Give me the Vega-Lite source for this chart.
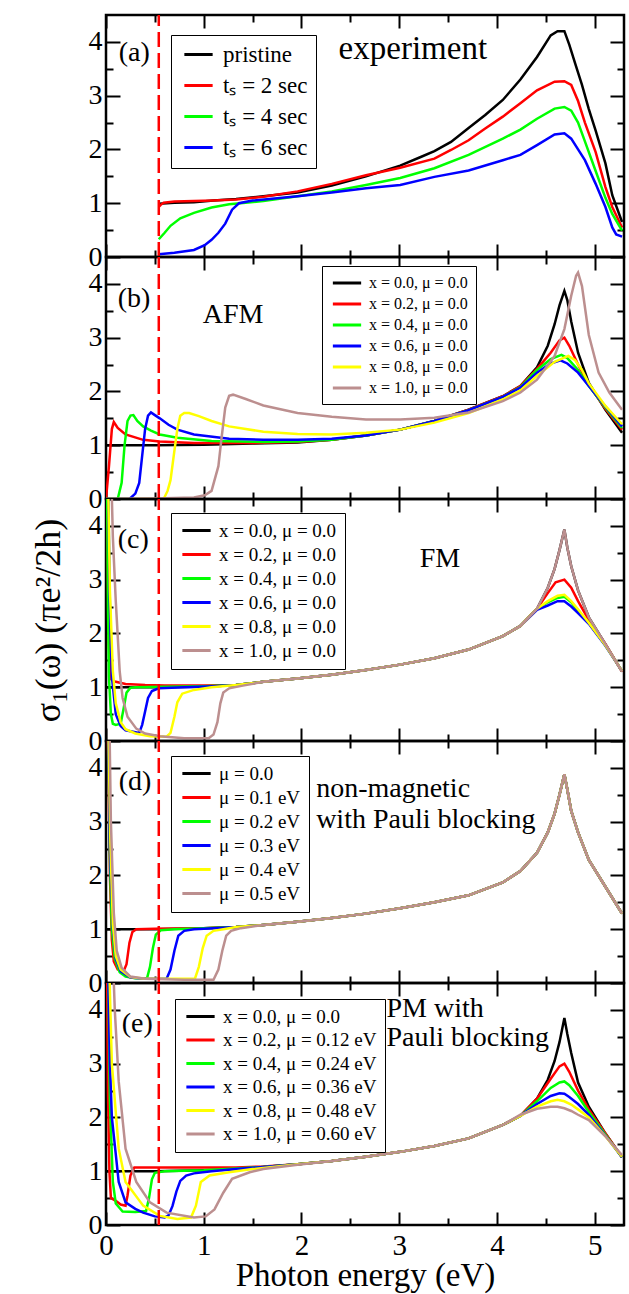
{
"$schema":"https://vega.github.io/schema/vega-lite/v6.json",
"padding":{"top":12,"left":28,"right":5,"bottom":0},
"config":{"font":"Liberation Serif","view":{"stroke":"black","strokeWidth":2.5},
"axis":{"domain":false,"grid":false,"tickColor":"black","tickWidth":2,"labelColor":"black","labelFontSize":28,"labelFont":"Liberation Serif","labelPadding":18,"labelFlush":false,"labelOverlap":false,"titleColor":"black","titleFont":"Liberation Serif","titleFontWeight":"normal","titleFontSize":34},
"legend":{"labelFont":"Liberation Serif","labelColor":"black","strokeColor":"black","fillColor":"white","symbolType":"M-2,0L2,0","symbolSize":200,"symbolStrokeWidth":3,"padding":8,"symbolOffset":8,"labelOffset":13,"orient":"none","direction":"vertical"},
"text":{"font":"Liberation Serif","color":"black"}},
"datasets":{
"a":[
{"k":0,"x":0.54,"y":0.99},{"k":0,"x":0.7,"y":1.01},{"k":0,"x":0.9,"y":1.02},{"k":0,"x":1.1,"y":1.05},{"k":0,"x":1.33,"y":1.08},{"k":0,"x":1.61,"y":1.13},{"k":0,"x":1.96,"y":1.2},{"k":0,"x":2.31,"y":1.33},{"k":0,"x":2.66,"y":1.5},{"k":0,"x":3.01,"y":1.7},{"k":0,"x":3.22,"y":1.86},{"k":0,"x":3.36,"y":1.97},{"k":0,"x":3.53,"y":2.14},{"k":0,"x":3.71,"y":2.4},{"k":0,"x":3.88,"y":2.64},{"k":0,"x":4.06,"y":2.92},{"k":0,"x":4.24,"y":3.3},{"k":0,"x":4.41,"y":3.72},{"k":0,"x":4.55,"y":4.12},{"k":0,"x":4.62,"y":4.2},{"k":0,"x":4.69,"y":4.2},{"k":0,"x":4.74,"y":3.95},{"k":0,"x":4.8,"y":3.6},{"k":0,"x":4.87,"y":3.2},{"k":0,"x":4.94,"y":2.75},{"k":0,"x":5.01,"y":2.35},{"k":0,"x":5.11,"y":1.74},{"k":0,"x":5.18,"y":1.15},{"k":0,"x":5.28,"y":0.65},
{"k":1,"x":0.54,"y":0.93},{"k":1,"x":0.56,"y":0.97},{"k":1,"x":0.59,"y":1.01},{"k":1,"x":0.7,"y":1.03},{"k":1,"x":0.9,"y":1.04},{"k":1,"x":1.1,"y":1.05},{"k":1,"x":1.33,"y":1.07},{"k":1,"x":1.61,"y":1.12},{"k":1,"x":1.96,"y":1.22},{"k":1,"x":2.31,"y":1.36},{"k":1,"x":2.66,"y":1.52},{"k":1,"x":3.01,"y":1.66},{"k":1,"x":3.36,"y":1.83},{"k":1,"x":3.53,"y":1.99},{"k":1,"x":3.71,"y":2.17},{"k":1,"x":3.88,"y":2.39},{"k":1,"x":4.06,"y":2.61},{"k":1,"x":4.24,"y":2.86},{"k":1,"x":4.41,"y":3.1},{"k":1,"x":4.59,"y":3.26},{"k":1,"x":4.69,"y":3.27},{"k":1,"x":4.76,"y":3.2},{"k":1,"x":4.83,"y":2.9},{"k":1,"x":4.9,"y":2.5},{"k":1,"x":5.01,"y":1.95},{"k":1,"x":5.11,"y":1.3},{"k":1,"x":5.18,"y":0.93},{"k":1,"x":5.28,"y":0.55},
{"k":2,"x":0.54,"y":0.33},{"k":2,"x":0.6,"y":0.45},{"k":2,"x":0.66,"y":0.58},{"k":2,"x":0.76,"y":0.72},{"k":2,"x":0.9,"y":0.82},{"k":2,"x":1.08,"y":0.92},{"k":2,"x":1.26,"y":0.98},{"k":2,"x":1.43,"y":1.01},{"k":2,"x":1.61,"y":1.04},{"k":2,"x":1.96,"y":1.13},{"k":2,"x":2.31,"y":1.22},{"k":2,"x":2.66,"y":1.34},{"k":2,"x":3.01,"y":1.47},{"k":2,"x":3.36,"y":1.65},{"k":2,"x":3.71,"y":1.9},{"k":2,"x":4.06,"y":2.2},{"k":2,"x":4.24,"y":2.37},{"k":2,"x":4.41,"y":2.57},{"k":2,"x":4.59,"y":2.76},{"k":2,"x":4.69,"y":2.79},{"k":2,"x":4.76,"y":2.72},{"k":2,"x":4.83,"y":2.5},{"k":2,"x":4.9,"y":2.15},{"k":2,"x":5.01,"y":1.6},{"k":2,"x":5.11,"y":1.1},{"k":2,"x":5.18,"y":0.8},{"k":2,"x":5.28,"y":0.49},
{"k":3,"x":0.54,"y":0.05},{"k":3,"x":0.7,"y":0.08},{"k":3,"x":0.9,"y":0.13},{"k":3,"x":1.01,"y":0.22},{"k":3,"x":1.08,"y":0.32},{"k":3,"x":1.15,"y":0.45},{"k":3,"x":1.22,"y":0.62},{"k":3,"x":1.29,"y":0.88},{"k":3,"x":1.36,"y":1.0},{"k":3,"x":1.5,"y":1.05},{"k":3,"x":1.96,"y":1.13},{"k":3,"x":2.31,"y":1.2},{"k":3,"x":2.66,"y":1.28},{"k":3,"x":3.01,"y":1.34},{"k":3,"x":3.36,"y":1.49},{"k":3,"x":3.71,"y":1.61},{"k":3,"x":4.06,"y":1.8},{"k":3,"x":4.24,"y":1.9},{"k":3,"x":4.41,"y":2.08},{"k":3,"x":4.59,"y":2.28},{"k":3,"x":4.69,"y":2.3},{"k":3,"x":4.76,"y":2.2},{"k":3,"x":4.83,"y":2.0},{"k":3,"x":4.9,"y":1.8},{"k":3,"x":5.01,"y":1.36},{"k":3,"x":5.11,"y":0.93},{"k":3,"x":5.18,"y":0.55},{"k":3,"x":5.22,"y":0.42},{"k":3,"x":5.28,"y":0.38}
],
"b":[
{"k":0,"x":0,"y":1.0},{"k":0,"x":0.5,"y":1.0},{"k":0,"x":1.0,"y":1.01},{"k":0,"x":1.5,"y":1.03},{"k":0,"x":1.96,"y":1.05},{"k":0,"x":2.31,"y":1.1},{"k":0,"x":2.66,"y":1.18},{"k":0,"x":3.01,"y":1.29},{"k":0,"x":3.36,"y":1.45},{"k":0,"x":3.71,"y":1.66},{"k":0,"x":4.06,"y":1.91},{"k":0,"x":4.24,"y":2.1},{"k":0,"x":4.41,"y":2.45},{"k":0,"x":4.52,"y":2.85},{"k":0,"x":4.59,"y":3.25},{"k":0,"x":4.64,"y":3.6},{"k":0,"x":4.69,"y":3.87},{"k":0,"x":4.72,"y":3.7},{"k":0,"x":4.76,"y":3.3},{"k":0,"x":4.83,"y":2.72},{"k":0,"x":4.94,"y":2.16},{"k":0,"x":5.11,"y":1.66},{"k":0,"x":5.28,"y":1.23},
{"k":1,"x":0,"y":0},{"k":1,"x":0.03,"y":0.6},{"k":1,"x":0.06,"y":1.3},{"k":1,"x":0.08,"y":1.43},{"k":1,"x":0.12,"y":1.32},{"k":1,"x":0.2,"y":1.2},{"k":1,"x":0.38,"y":1.1},{"k":1,"x":0.55,"y":1.07},{"k":1,"x":0.9,"y":1.04},{"k":1,"x":1.5,"y":1.04},{"k":1,"x":1.96,"y":1.06},{"k":1,"x":2.31,"y":1.1},{"k":1,"x":2.66,"y":1.18},{"k":1,"x":3.01,"y":1.29},{"k":1,"x":3.36,"y":1.45},{"k":1,"x":3.71,"y":1.66},{"k":1,"x":4.06,"y":1.91},{"k":1,"x":4.24,"y":2.1},{"k":1,"x":4.41,"y":2.42},{"k":1,"x":4.55,"y":2.72},{"k":1,"x":4.64,"y":2.95},{"k":1,"x":4.69,"y":3.0},{"k":1,"x":4.74,"y":2.85},{"k":1,"x":4.83,"y":2.5},{"k":1,"x":4.94,"y":2.12},{"k":1,"x":5.11,"y":1.68},{"k":1,"x":5.28,"y":1.29},
{"k":2,"x":0,"y":0},{"k":2,"x":0.12,"y":0},{"k":2,"x":0.16,"y":0.3},{"k":2,"x":0.19,"y":1.0},{"k":2,"x":0.22,"y":1.45},{"k":2,"x":0.25,"y":1.55},{"k":2,"x":0.28,"y":1.56},{"k":2,"x":0.32,"y":1.45},{"k":2,"x":0.38,"y":1.35},{"k":2,"x":0.46,"y":1.27},{"k":2,"x":0.55,"y":1.2},{"k":2,"x":0.73,"y":1.14},{"k":2,"x":1.08,"y":1.08},{"k":2,"x":1.61,"y":1.06},{"k":2,"x":1.96,"y":1.07},{"k":2,"x":2.31,"y":1.1},{"k":2,"x":2.66,"y":1.18},{"k":2,"x":3.01,"y":1.29},{"k":2,"x":3.36,"y":1.45},{"k":2,"x":3.71,"y":1.65},{"k":2,"x":4.06,"y":1.9},{"k":2,"x":4.24,"y":2.08},{"k":2,"x":4.41,"y":2.4},{"k":2,"x":4.55,"y":2.6},{"k":2,"x":4.66,"y":2.68},{"k":2,"x":4.72,"y":2.62},{"k":2,"x":4.83,"y":2.4},{"k":2,"x":4.94,"y":2.1},{"k":2,"x":5.11,"y":1.7},{"k":2,"x":5.28,"y":1.32},
{"k":3,"x":0,"y":0},{"k":3,"x":0.24,"y":0},{"k":3,"x":0.3,"y":0.1},{"k":3,"x":0.34,"y":0.3},{"k":3,"x":0.37,"y":0.8},{"k":3,"x":0.4,"y":1.3},{"k":3,"x":0.43,"y":1.55},{"k":3,"x":0.46,"y":1.61},{"k":3,"x":0.5,"y":1.56},{"k":3,"x":0.55,"y":1.5},{"k":3,"x":0.64,"y":1.38},{"k":3,"x":0.73,"y":1.29},{"k":3,"x":0.9,"y":1.2},{"k":3,"x":1.26,"y":1.12},{"k":3,"x":1.61,"y":1.1},{"k":3,"x":1.96,"y":1.1},{"k":3,"x":2.31,"y":1.12},{"k":3,"x":2.66,"y":1.18},{"k":3,"x":3.01,"y":1.29},{"k":3,"x":3.36,"y":1.45},{"k":3,"x":3.71,"y":1.65},{"k":3,"x":4.06,"y":1.9},{"k":3,"x":4.24,"y":2.07},{"k":3,"x":4.41,"y":2.35},{"k":3,"x":4.55,"y":2.52},{"k":3,"x":4.65,"y":2.58},{"k":3,"x":4.72,"y":2.52},{"k":3,"x":4.83,"y":2.35},{"k":3,"x":4.94,"y":2.1},{"k":3,"x":5.11,"y":1.72},{"k":3,"x":5.28,"y":1.35},
{"k":4,"x":0,"y":0},{"k":4,"x":0.59,"y":0},{"k":4,"x":0.63,"y":0.15},{"k":4,"x":0.66,"y":0.35},{"k":4,"x":0.7,"y":0.9},{"k":4,"x":0.73,"y":1.3},{"k":4,"x":0.76,"y":1.55},{"k":4,"x":0.8,"y":1.6},{"k":4,"x":0.85,"y":1.6},{"k":4,"x":0.95,"y":1.54},{"k":4,"x":1.08,"y":1.45},{"k":4,"x":1.26,"y":1.35},{"k":4,"x":1.61,"y":1.25},{"k":4,"x":1.96,"y":1.21},{"k":4,"x":2.31,"y":1.2},{"k":4,"x":2.66,"y":1.23},{"k":4,"x":3.01,"y":1.29},{"k":4,"x":3.36,"y":1.42},{"k":4,"x":3.71,"y":1.6},{"k":4,"x":4.06,"y":1.85},{"k":4,"x":4.24,"y":2.02},{"k":4,"x":4.41,"y":2.29},{"k":4,"x":4.59,"y":2.55},{"k":4,"x":4.73,"y":2.66},{"k":4,"x":4.8,"y":2.58},{"k":4,"x":4.87,"y":2.4},{"k":4,"x":4.94,"y":2.15},{"k":4,"x":5.11,"y":1.73},{"k":4,"x":5.28,"y":1.39},
{"k":5,"x":0,"y":0},{"k":5,"x":0.5,"y":0.01},{"k":5,"x":0.9,"y":0.03},{"k":5,"x":1.01,"y":0.07},{"k":5,"x":1.08,"y":0.15},{"k":5,"x":1.15,"y":0.61},{"k":5,"x":1.18,"y":1.1},{"k":5,"x":1.22,"y":1.7},{"k":5,"x":1.26,"y":1.92},{"k":5,"x":1.3,"y":1.94},{"k":5,"x":1.43,"y":1.86},{"k":5,"x":1.61,"y":1.74},{"k":5,"x":1.96,"y":1.6},{"k":5,"x":2.31,"y":1.53},{"k":5,"x":2.66,"y":1.48},{"k":5,"x":3.01,"y":1.48},{"k":5,"x":3.36,"y":1.51},{"k":5,"x":3.71,"y":1.61},{"k":5,"x":4.06,"y":1.82},{"k":5,"x":4.24,"y":1.98},{"k":5,"x":4.41,"y":2.22},{"k":5,"x":4.59,"y":2.66},{"k":5,"x":4.69,"y":3.16},{"k":5,"x":4.76,"y":3.78},{"k":5,"x":4.81,"y":4.15},{"k":5,"x":4.83,"y":4.21},{"k":5,"x":4.87,"y":3.96},{"k":5,"x":4.94,"y":3.05},{"k":5,"x":5.04,"y":2.35},{"k":5,"x":5.15,"y":1.98},{"k":5,"x":5.28,"y":1.66}
],
"c":[
{"k":0,"x":0,"y":1.0},{"k":0,"x":0.5,"y":1.0},{"k":0,"x":1.0,"y":1.01},{"k":0,"x":1.33,"y":1.04},{"k":0,"x":1.61,"y":1.1},{"k":0,"x":1.96,"y":1.16},{"k":0,"x":2.31,"y":1.23},{"k":0,"x":2.66,"y":1.32},{"k":0,"x":3.01,"y":1.42},{"k":0,"x":3.36,"y":1.54},{"k":0,"x":3.71,"y":1.7},{"k":0,"x":4.06,"y":1.95},{"k":0,"x":4.24,"y":2.14},{"k":0,"x":4.41,"y":2.46},{"k":0,"x":4.52,"y":2.85},{"k":0,"x":4.59,"y":3.2},{"k":0,"x":4.64,"y":3.55},{"k":0,"x":4.69,"y":3.93},{"k":0,"x":4.72,"y":3.6},{"k":0,"x":4.76,"y":3.25},{"k":0,"x":4.83,"y":2.8},{"k":0,"x":4.94,"y":2.3},{"k":0,"x":5.11,"y":1.8},{"k":0,"x":5.28,"y":1.29},
{"k":1,"x":0,"y":9},{"k":1,"x":0.01,"y":5.5},{"k":1,"x":0.02,"y":3.0},{"k":1,"x":0.03,"y":1.8},{"k":1,"x":0.05,"y":1.15},{"k":1,"x":0.07,"y":1.12},{"k":1,"x":0.1,"y":1.1},{"k":1,"x":0.2,"y":1.06},{"k":1,"x":0.4,"y":1.04},{"k":1,"x":0.6,"y":1.03},{"k":1,"x":1.0,"y":1.03},{"k":1,"x":1.33,"y":1.04},{"k":1,"x":1.61,"y":1.1},{"k":1,"x":1.96,"y":1.16},{"k":1,"x":2.31,"y":1.23},{"k":1,"x":2.66,"y":1.32},{"k":1,"x":3.01,"y":1.42},{"k":1,"x":3.36,"y":1.54},{"k":1,"x":3.71,"y":1.7},{"k":1,"x":4.06,"y":1.95},{"k":1,"x":4.24,"y":2.14},{"k":1,"x":4.41,"y":2.46},{"k":1,"x":4.52,"y":2.75},{"k":1,"x":4.6,"y":2.95},{"k":1,"x":4.69,"y":3.0},{"k":1,"x":4.76,"y":2.85},{"k":1,"x":4.83,"y":2.6},{"k":1,"x":4.94,"y":2.25},{"k":1,"x":5.11,"y":1.8},{"k":1,"x":5.28,"y":1.29},
{"k":2,"x":0,"y":9},{"k":2,"x":0.01,"y":5},{"k":2,"x":0.02,"y":2.5},{"k":2,"x":0.03,"y":1.2},{"k":2,"x":0.05,"y":0.5},{"k":2,"x":0.07,"y":0.32},{"k":2,"x":0.1,"y":0.3},{"k":2,"x":0.15,"y":0.32},{"k":2,"x":0.18,"y":0.6},{"k":2,"x":0.21,"y":0.9},{"k":2,"x":0.25,"y":0.99},{"k":2,"x":0.3,"y":1.0},{"k":2,"x":0.6,"y":1.01},{"k":2,"x":1.0,"y":1.02},{"k":2,"x":1.33,"y":1.04},{"k":2,"x":1.61,"y":1.1},{"k":2,"x":1.96,"y":1.16},{"k":2,"x":2.31,"y":1.23},{"k":2,"x":2.66,"y":1.32},{"k":2,"x":3.01,"y":1.42},{"k":2,"x":3.36,"y":1.54},{"k":2,"x":3.71,"y":1.7},{"k":2,"x":4.06,"y":1.95},{"k":2,"x":4.24,"y":2.14},{"k":2,"x":4.41,"y":2.46},{"k":2,"x":4.52,"y":2.58},{"k":2,"x":4.62,"y":2.66},{"k":2,"x":4.69,"y":2.68},{"k":2,"x":4.76,"y":2.58},{"k":2,"x":4.83,"y":2.42},{"k":2,"x":4.94,"y":2.2},{"k":2,"x":5.11,"y":1.78},{"k":2,"x":5.28,"y":1.3},
{"k":3,"x":0,"y":9},{"k":3,"x":0.02,"y":5},{"k":3,"x":0.04,"y":2.5},{"k":3,"x":0.06,"y":1.2},{"k":3,"x":0.1,"y":0.5},{"k":3,"x":0.15,"y":0.28},{"k":3,"x":0.2,"y":0.2},{"k":3,"x":0.34,"y":0.15},{"k":3,"x":0.37,"y":0.3},{"k":3,"x":0.4,"y":0.55},{"k":3,"x":0.43,"y":0.8},{"k":3,"x":0.47,"y":0.93},{"k":3,"x":0.54,"y":0.98},{"k":3,"x":0.8,"y":1.0},{"k":3,"x":1.1,"y":1.02},{"k":3,"x":1.33,"y":1.04},{"k":3,"x":1.61,"y":1.1},{"k":3,"x":1.96,"y":1.16},{"k":3,"x":2.31,"y":1.23},{"k":3,"x":2.66,"y":1.32},{"k":3,"x":3.01,"y":1.42},{"k":3,"x":3.36,"y":1.54},{"k":3,"x":3.71,"y":1.7},{"k":3,"x":4.06,"y":1.95},{"k":3,"x":4.24,"y":2.14},{"k":3,"x":4.41,"y":2.44},{"k":3,"x":4.52,"y":2.52},{"k":3,"x":4.62,"y":2.6},{"k":3,"x":4.69,"y":2.6},{"k":3,"x":4.76,"y":2.5},{"k":3,"x":4.83,"y":2.38},{"k":3,"x":4.94,"y":2.18},{"k":3,"x":5.11,"y":1.77},{"k":3,"x":5.28,"y":1.3},
{"k":4,"x":0,"y":9},{"k":4,"x":0.02,"y":5},{"k":4,"x":0.04,"y":2.8},{"k":4,"x":0.07,"y":1.3},{"k":4,"x":0.1,"y":0.7},{"k":4,"x":0.15,"y":0.35},{"k":4,"x":0.2,"y":0.22},{"k":4,"x":0.3,"y":0.14},{"k":4,"x":0.45,"y":0.09},{"k":4,"x":0.62,"y":0.08},{"k":4,"x":0.66,"y":0.15},{"k":4,"x":0.7,"y":0.45},{"k":4,"x":0.73,"y":0.72},{"k":4,"x":0.78,"y":0.88},{"k":4,"x":0.9,"y":0.95},{"k":4,"x":1.08,"y":1.0},{"k":4,"x":1.33,"y":1.04},{"k":4,"x":1.61,"y":1.1},{"k":4,"x":1.96,"y":1.16},{"k":4,"x":2.31,"y":1.23},{"k":4,"x":2.66,"y":1.32},{"k":4,"x":3.01,"y":1.42},{"k":4,"x":3.36,"y":1.54},{"k":4,"x":3.71,"y":1.7},{"k":4,"x":4.06,"y":1.95},{"k":4,"x":4.24,"y":2.14},{"k":4,"x":4.41,"y":2.46},{"k":4,"x":4.52,"y":2.6},{"k":4,"x":4.62,"y":2.7},{"k":4,"x":4.69,"y":2.72},{"k":4,"x":4.76,"y":2.6},{"k":4,"x":4.83,"y":2.45},{"k":4,"x":4.94,"y":2.2},{"k":4,"x":5.11,"y":1.78},{"k":4,"x":5.28,"y":1.3},
{"k":5,"x":0,"y":9},{"k":5,"x":0.04,"y":6},{"k":5,"x":0.07,"y":3.8},{"k":5,"x":0.1,"y":2.6},{"k":5,"x":0.14,"y":1.3},{"k":5,"x":0.17,"y":0.8},{"k":5,"x":0.22,"y":0.45},{"k":5,"x":0.31,"y":0.23},{"k":5,"x":0.4,"y":0.14},{"k":5,"x":0.55,"y":0.09},{"k":5,"x":0.8,"y":0.05},{"k":5,"x":1.05,"y":0.05},{"k":5,"x":1.1,"y":0.12},{"k":5,"x":1.14,"y":0.35},{"k":5,"x":1.17,"y":0.7},{"k":5,"x":1.2,"y":0.9},{"k":5,"x":1.26,"y":0.98},{"k":5,"x":1.4,"y":1.03},{"k":5,"x":1.61,"y":1.1},{"k":5,"x":1.96,"y":1.16},{"k":5,"x":2.31,"y":1.23},{"k":5,"x":2.66,"y":1.32},{"k":5,"x":3.01,"y":1.42},{"k":5,"x":3.36,"y":1.54},{"k":5,"x":3.71,"y":1.7},{"k":5,"x":4.06,"y":1.95},{"k":5,"x":4.24,"y":2.14},{"k":5,"x":4.41,"y":2.46},{"k":5,"x":4.52,"y":2.85},{"k":5,"x":4.59,"y":3.2},{"k":5,"x":4.64,"y":3.55},{"k":5,"x":4.69,"y":3.93},{"k":5,"x":4.72,"y":3.6},{"k":5,"x":4.76,"y":3.25},{"k":5,"x":4.83,"y":2.8},{"k":5,"x":4.94,"y":2.3},{"k":5,"x":5.11,"y":1.8},{"k":5,"x":5.28,"y":1.29}
],
"d":[
{"k":0,"x":0,"y":1.0},{"k":0,"x":0.5,"y":1.0},{"k":0,"x":1.0,"y":1.02},{"k":0,"x":1.33,"y":1.04},{"k":0,"x":1.61,"y":1.08},{"k":0,"x":1.96,"y":1.14},{"k":0,"x":2.31,"y":1.21},{"k":0,"x":2.66,"y":1.29},{"k":0,"x":3.01,"y":1.39},{"k":0,"x":3.36,"y":1.5},{"k":0,"x":3.71,"y":1.63},{"k":0,"x":4.06,"y":1.87},{"k":0,"x":4.24,"y":2.08},{"k":0,"x":4.41,"y":2.42},{"k":0,"x":4.52,"y":2.8},{"k":0,"x":4.59,"y":3.15},{"k":0,"x":4.64,"y":3.5},{"k":0,"x":4.69,"y":3.88},{"k":0,"x":4.72,"y":3.6},{"k":0,"x":4.76,"y":3.2},{"k":0,"x":4.83,"y":2.8},{"k":0,"x":4.94,"y":2.29},{"k":0,"x":5.11,"y":1.79},{"k":0,"x":5.28,"y":1.29},
{"k":1,"x":0,"y":9},{"k":1,"x":0.02,"y":4.5},{"k":1,"x":0.04,"y":2.0},{"k":1,"x":0.06,"y":0.8},{"k":1,"x":0.08,"y":0.4},{"k":1,"x":0.12,"y":0.25},{"k":1,"x":0.18,"y":0.22},{"k":1,"x":0.21,"y":0.35},{"k":1,"x":0.24,"y":0.75},{"k":1,"x":0.27,"y":0.95},{"k":1,"x":0.31,"y":1.0},{"k":1,"x":0.5,"y":1.01},{"k":1,"x":1.0,"y":1.02},{"k":1,"x":1.33,"y":1.04},{"k":1,"x":1.61,"y":1.08},{"k":1,"x":1.96,"y":1.14},{"k":1,"x":2.31,"y":1.21},{"k":1,"x":2.66,"y":1.29},{"k":1,"x":3.01,"y":1.39},{"k":1,"x":3.36,"y":1.5},{"k":1,"x":3.71,"y":1.63},{"k":1,"x":4.06,"y":1.87},{"k":1,"x":4.24,"y":2.08},{"k":1,"x":4.41,"y":2.42},{"k":1,"x":4.52,"y":2.8},{"k":1,"x":4.59,"y":3.15},{"k":1,"x":4.64,"y":3.5},{"k":1,"x":4.69,"y":3.88},{"k":1,"x":4.72,"y":3.6},{"k":1,"x":4.76,"y":3.2},{"k":1,"x":4.83,"y":2.8},{"k":1,"x":4.94,"y":2.29},{"k":1,"x":5.11,"y":1.79},{"k":1,"x":5.28,"y":1.29},
{"k":2,"x":0,"y":9},{"k":2,"x":0.02,"y":5},{"k":2,"x":0.04,"y":2.3},{"k":2,"x":0.06,"y":1.0},{"k":2,"x":0.09,"y":0.45},{"k":2,"x":0.14,"y":0.2},{"k":2,"x":0.2,"y":0.12},{"k":2,"x":0.3,"y":0.09},{"k":2,"x":0.42,"y":0.09},{"k":2,"x":0.45,"y":0.3},{"k":2,"x":0.48,"y":0.65},{"k":2,"x":0.51,"y":0.9},{"k":2,"x":0.56,"y":0.98},{"k":2,"x":0.7,"y":1.0},{"k":2,"x":1.0,"y":1.02},{"k":2,"x":1.33,"y":1.04},{"k":2,"x":1.61,"y":1.08},{"k":2,"x":1.96,"y":1.14},{"k":2,"x":2.31,"y":1.21},{"k":2,"x":2.66,"y":1.29},{"k":2,"x":3.01,"y":1.39},{"k":2,"x":3.36,"y":1.5},{"k":2,"x":3.71,"y":1.63},{"k":2,"x":4.06,"y":1.87},{"k":2,"x":4.24,"y":2.08},{"k":2,"x":4.41,"y":2.42},{"k":2,"x":4.52,"y":2.8},{"k":2,"x":4.59,"y":3.15},{"k":2,"x":4.64,"y":3.5},{"k":2,"x":4.69,"y":3.88},{"k":2,"x":4.72,"y":3.6},{"k":2,"x":4.76,"y":3.2},{"k":2,"x":4.83,"y":2.8},{"k":2,"x":4.94,"y":2.29},{"k":2,"x":5.11,"y":1.79},{"k":2,"x":5.28,"y":1.29},
{"k":3,"x":0,"y":9},{"k":3,"x":0.02,"y":5},{"k":3,"x":0.04,"y":2.5},{"k":3,"x":0.07,"y":1.0},{"k":3,"x":0.1,"y":0.45},{"k":3,"x":0.15,"y":0.22},{"k":3,"x":0.25,"y":0.1},{"k":3,"x":0.4,"y":0.08},{"k":3,"x":0.62,"y":0.08},{"k":3,"x":0.66,"y":0.25},{"k":3,"x":0.7,"y":0.6},{"k":3,"x":0.74,"y":0.88},{"k":3,"x":0.8,"y":0.97},{"k":3,"x":0.9,"y":1.0},{"k":3,"x":1.1,"y":1.02},{"k":3,"x":1.33,"y":1.04},{"k":3,"x":1.61,"y":1.08},{"k":3,"x":1.96,"y":1.14},{"k":3,"x":2.31,"y":1.21},{"k":3,"x":2.66,"y":1.29},{"k":3,"x":3.01,"y":1.39},{"k":3,"x":3.36,"y":1.5},{"k":3,"x":3.71,"y":1.63},{"k":3,"x":4.06,"y":1.87},{"k":3,"x":4.24,"y":2.08},{"k":3,"x":4.41,"y":2.42},{"k":3,"x":4.52,"y":2.8},{"k":3,"x":4.59,"y":3.15},{"k":3,"x":4.64,"y":3.5},{"k":3,"x":4.69,"y":3.88},{"k":3,"x":4.72,"y":3.6},{"k":3,"x":4.76,"y":3.2},{"k":3,"x":4.83,"y":2.8},{"k":3,"x":4.94,"y":2.29},{"k":3,"x":5.11,"y":1.79},{"k":3,"x":5.28,"y":1.29},
{"k":4,"x":0,"y":9},{"k":4,"x":0.02,"y":5.2},{"k":4,"x":0.045,"y":2.6},{"k":4,"x":0.07,"y":1.1},{"k":4,"x":0.1,"y":0.5},{"k":4,"x":0.15,"y":0.25},{"k":4,"x":0.25,"y":0.11},{"k":4,"x":0.4,"y":0.08},{"k":4,"x":0.8,"y":0.08},{"k":4,"x":0.91,"y":0.08},{"k":4,"x":0.95,"y":0.3},{"k":4,"x":0.99,"y":0.65},{"k":4,"x":1.03,"y":0.88},{"k":4,"x":1.1,"y":0.97},{"k":4,"x":1.2,"y":1.0},{"k":4,"x":1.33,"y":1.04},{"k":4,"x":1.61,"y":1.08},{"k":4,"x":1.96,"y":1.14},{"k":4,"x":2.31,"y":1.21},{"k":4,"x":2.66,"y":1.29},{"k":4,"x":3.01,"y":1.39},{"k":4,"x":3.36,"y":1.5},{"k":4,"x":3.71,"y":1.63},{"k":4,"x":4.06,"y":1.87},{"k":4,"x":4.24,"y":2.08},{"k":4,"x":4.41,"y":2.42},{"k":4,"x":4.52,"y":2.8},{"k":4,"x":4.59,"y":3.15},{"k":4,"x":4.64,"y":3.5},{"k":4,"x":4.69,"y":3.88},{"k":4,"x":4.72,"y":3.6},{"k":4,"x":4.76,"y":3.2},{"k":4,"x":4.83,"y":2.8},{"k":4,"x":4.94,"y":2.29},{"k":4,"x":5.11,"y":1.79},{"k":4,"x":5.28,"y":1.29},
{"k":5,"x":0,"y":9},{"k":5,"x":0.03,"y":5.5},{"k":5,"x":0.05,"y":3.0},{"k":5,"x":0.08,"y":1.3},{"k":5,"x":0.11,"y":0.6},{"k":5,"x":0.16,"y":0.28},{"k":5,"x":0.25,"y":0.12},{"k":5,"x":0.4,"y":0.08},{"k":5,"x":0.8,"y":0.06},{"k":5,"x":1.1,"y":0.06},{"k":5,"x":1.15,"y":0.25},{"k":5,"x":1.19,"y":0.6},{"k":5,"x":1.23,"y":0.88},{"k":5,"x":1.28,"y":0.97},{"k":5,"x":1.38,"y":1.02},{"k":5,"x":1.61,"y":1.08},{"k":5,"x":1.96,"y":1.14},{"k":5,"x":2.31,"y":1.21},{"k":5,"x":2.66,"y":1.29},{"k":5,"x":3.01,"y":1.39},{"k":5,"x":3.36,"y":1.5},{"k":5,"x":3.71,"y":1.63},{"k":5,"x":4.06,"y":1.87},{"k":5,"x":4.24,"y":2.08},{"k":5,"x":4.41,"y":2.42},{"k":5,"x":4.52,"y":2.8},{"k":5,"x":4.59,"y":3.15},{"k":5,"x":4.64,"y":3.5},{"k":5,"x":4.69,"y":3.88},{"k":5,"x":4.72,"y":3.6},{"k":5,"x":4.76,"y":3.2},{"k":5,"x":4.83,"y":2.8},{"k":5,"x":4.94,"y":2.29},{"k":5,"x":5.11,"y":1.79},{"k":5,"x":5.28,"y":1.29}
],
"e":[
{"k":0,"x":0,"y":1.0},{"k":0,"x":0.5,"y":1.0},{"k":0,"x":1.0,"y":1.02},{"k":0,"x":1.33,"y":1.04},{"k":0,"x":1.61,"y":1.08},{"k":0,"x":1.96,"y":1.13},{"k":0,"x":2.31,"y":1.19},{"k":0,"x":2.66,"y":1.27},{"k":0,"x":3.01,"y":1.36},{"k":0,"x":3.36,"y":1.47},{"k":0,"x":3.71,"y":1.61},{"k":0,"x":4.06,"y":1.86},{"k":0,"x":4.24,"y":2.03},{"k":0,"x":4.41,"y":2.35},{"k":0,"x":4.52,"y":2.7},{"k":0,"x":4.59,"y":3.05},{"k":0,"x":4.64,"y":3.4},{"k":0,"x":4.69,"y":3.85},{"k":0,"x":4.72,"y":3.55},{"k":0,"x":4.76,"y":3.2},{"k":0,"x":4.83,"y":2.65},{"k":0,"x":4.94,"y":2.2},{"k":0,"x":5.11,"y":1.7},{"k":0,"x":5.28,"y":1.26},
{"k":1,"x":0,"y":9},{"k":1,"x":0.01,"y":5},{"k":1,"x":0.02,"y":2.5},{"k":1,"x":0.035,"y":1.0},{"k":1,"x":0.05,"y":0.5},{"k":1,"x":0.1,"y":0.45},{"k":1,"x":0.15,"y":0.38},{"k":1,"x":0.2,"y":0.36},{"k":1,"x":0.22,"y":0.55},{"k":1,"x":0.25,"y":0.92},{"k":1,"x":0.29,"y":1.07},{"k":1,"x":0.5,"y":1.07},{"k":1,"x":1.0,"y":1.07},{"k":1,"x":1.33,"y":1.07},{"k":1,"x":1.61,"y":1.09},{"k":1,"x":1.96,"y":1.13},{"k":1,"x":2.31,"y":1.19},{"k":1,"x":2.66,"y":1.27},{"k":1,"x":3.01,"y":1.36},{"k":1,"x":3.36,"y":1.47},{"k":1,"x":3.71,"y":1.61},{"k":1,"x":4.06,"y":1.86},{"k":1,"x":4.24,"y":2.03},{"k":1,"x":4.41,"y":2.35},{"k":1,"x":4.55,"y":2.72},{"k":1,"x":4.64,"y":2.95},{"k":1,"x":4.69,"y":3.0},{"k":1,"x":4.74,"y":2.85},{"k":1,"x":4.83,"y":2.5},{"k":1,"x":4.94,"y":2.15},{"k":1,"x":5.11,"y":1.7},{"k":1,"x":5.28,"y":1.26},
{"k":2,"x":0,"y":9},{"k":2,"x":0.02,"y":5},{"k":2,"x":0.04,"y":2.3},{"k":2,"x":0.07,"y":0.8},{"k":2,"x":0.1,"y":0.4},{"k":2,"x":0.17,"y":0.25},{"k":2,"x":0.3,"y":0.24},{"k":2,"x":0.41,"y":0.26},{"k":2,"x":0.44,"y":0.5},{"k":2,"x":0.47,"y":0.85},{"k":2,"x":0.5,"y":0.97},{"k":2,"x":0.6,"y":1.0},{"k":2,"x":1.0,"y":1.02},{"k":2,"x":1.33,"y":1.05},{"k":2,"x":1.61,"y":1.08},{"k":2,"x":1.96,"y":1.13},{"k":2,"x":2.31,"y":1.19},{"k":2,"x":2.66,"y":1.27},{"k":2,"x":3.01,"y":1.36},{"k":2,"x":3.36,"y":1.47},{"k":2,"x":3.71,"y":1.61},{"k":2,"x":4.06,"y":1.86},{"k":2,"x":4.24,"y":2.03},{"k":2,"x":4.41,"y":2.3},{"k":2,"x":4.55,"y":2.55},{"k":2,"x":4.64,"y":2.65},{"k":2,"x":4.69,"y":2.67},{"k":2,"x":4.74,"y":2.6},{"k":2,"x":4.83,"y":2.4},{"k":2,"x":4.94,"y":2.1},{"k":2,"x":5.11,"y":1.68},{"k":2,"x":5.28,"y":1.26},
{"k":3,"x":0,"y":9},{"k":3,"x":0.02,"y":5},{"k":3,"x":0.04,"y":3.0},{"k":3,"x":0.06,"y":2.0},{"k":3,"x":0.13,"y":0.8},{"k":3,"x":0.2,"y":0.42},{"k":3,"x":0.3,"y":0.3},{"k":3,"x":0.38,"y":0.23},{"k":3,"x":0.5,"y":0.16},{"k":3,"x":0.6,"y":0.14},{"k":3,"x":0.64,"y":0.18},{"k":3,"x":0.68,"y":0.35},{"k":3,"x":0.72,"y":0.62},{"k":3,"x":0.76,"y":0.82},{"k":3,"x":0.82,"y":0.92},{"k":3,"x":0.9,"y":0.96},{"k":3,"x":1.08,"y":1.0},{"k":3,"x":1.33,"y":1.04},{"k":3,"x":1.61,"y":1.08},{"k":3,"x":1.96,"y":1.13},{"k":3,"x":2.31,"y":1.19},{"k":3,"x":2.66,"y":1.27},{"k":3,"x":3.01,"y":1.36},{"k":3,"x":3.36,"y":1.47},{"k":3,"x":3.71,"y":1.61},{"k":3,"x":4.06,"y":1.86},{"k":3,"x":4.24,"y":2.03},{"k":3,"x":4.41,"y":2.25},{"k":3,"x":4.55,"y":2.4},{"k":3,"x":4.64,"y":2.45},{"k":3,"x":4.69,"y":2.44},{"k":3,"x":4.74,"y":2.38},{"k":3,"x":4.83,"y":2.25},{"k":3,"x":4.94,"y":2.05},{"k":3,"x":5.11,"y":1.66},{"k":3,"x":5.28,"y":1.26},
{"k":4,"x":0,"y":9},{"k":4,"x":0.03,"y":5},{"k":4,"x":0.06,"y":3.0},{"k":4,"x":0.13,"y":1.42},{"k":4,"x":0.2,"y":0.8},{"k":4,"x":0.38,"y":0.36},{"k":4,"x":0.55,"y":0.17},{"k":4,"x":0.73,"y":0.11},{"k":4,"x":0.87,"y":0.14},{"k":4,"x":0.92,"y":0.36},{"k":4,"x":0.97,"y":0.8},{"k":4,"x":1.06,"y":0.92},{"k":4,"x":1.26,"y":0.98},{"k":4,"x":1.5,"y":1.04},{"k":4,"x":1.96,"y":1.13},{"k":4,"x":2.31,"y":1.19},{"k":4,"x":2.66,"y":1.27},{"k":4,"x":3.01,"y":1.36},{"k":4,"x":3.36,"y":1.47},{"k":4,"x":3.71,"y":1.61},{"k":4,"x":4.06,"y":1.86},{"k":4,"x":4.24,"y":2.03},{"k":4,"x":4.41,"y":2.2},{"k":4,"x":4.55,"y":2.3},{"k":4,"x":4.62,"y":2.33},{"k":4,"x":4.69,"y":2.3},{"k":4,"x":4.76,"y":2.24},{"k":4,"x":4.83,"y":2.15},{"k":4,"x":4.94,"y":2.0},{"k":4,"x":5.11,"y":1.65},{"k":4,"x":5.28,"y":1.27},
{"k":5,"x":0,"y":9},{"k":5,"x":0.05,"y":6},{"k":5,"x":0.09,"y":4},{"k":5,"x":0.13,"y":2.67},{"k":5,"x":0.2,"y":1.42},{"k":5,"x":0.31,"y":0.8},{"k":5,"x":0.45,"y":0.42},{"k":5,"x":0.62,"y":0.23},{"k":5,"x":0.9,"y":0.14},{"k":5,"x":1.02,"y":0.16},{"k":5,"x":1.11,"y":0.29},{"k":5,"x":1.2,"y":0.6},{"k":5,"x":1.29,"y":0.86},{"k":5,"x":1.47,"y":0.98},{"k":5,"x":1.61,"y":1.04},{"k":5,"x":1.96,"y":1.12},{"k":5,"x":2.31,"y":1.19},{"k":5,"x":2.66,"y":1.27},{"k":5,"x":3.01,"y":1.36},{"k":5,"x":3.36,"y":1.47},{"k":5,"x":3.71,"y":1.61},{"k":5,"x":4.06,"y":1.86},{"k":5,"x":4.24,"y":2.05},{"k":5,"x":4.41,"y":2.16},{"k":5,"x":4.55,"y":2.2},{"k":5,"x":4.62,"y":2.2},{"k":5,"x":4.69,"y":2.17},{"k":5,"x":4.76,"y":2.12},{"k":5,"x":4.83,"y":2.05},{"k":5,"x":4.94,"y":1.95},{"k":5,"x":5.11,"y":1.65},{"k":5,"x":5.28,"y":1.3}
]
},
"vconcat":[
{"width":518,"height":242,"data":{"name":"a"},
"layer":[
{"mark":{"type":"line","strokeWidth":2.5,"clip":true},
"encoding":{
"x":{"field":"x","type":"quantitative","scale":{"domain":[0,5.3],"nice":false,"zero":false},"axis":{"orient":"bottom","values":[0,0.5,1,1.5,2,2.5,3,3.5,4,4.5,5],"labels":false,"tickSize":{"condition":{"test":"datum.value % 1 == 0","value":-13},"value":-7},"title":null}},
"y":{"field":"y","type":"quantitative","scale":{"domain":[0,4.5],"nice":false},"axis":{"orient":"left","values":[0,0.5,1,1.5,2,2.5,3,3.5,4],"labelExpr":"datum.value % 1 == 0 ? format(datum.value,'d') : ''","tickSize":{"condition":{"test":"datum.value % 1 == 0","value":-14},"value":-7},"title":null}},
"color":{"field":"k","type":"nominal","scale":{"domain":[0,1,2,3],"range":["#000000","#ff0000","#00ff00","#0000ff"]},"legend":{"title":null,"legendX":65,"legendY":20,"labelFontSize":23,"rowPadding":7,"labelExpr":"['pristine','tₛ = 2 sec','tₛ = 4 sec','tₛ = 6 sec'][datum.value]"}}
}},
{"data":{"values":[{"x":0.54}]},"mark":{"type":"rule","color":"#ff0000","strokeWidth":2.5,"strokeDash":[15,6]},
"encoding":{"x":{"field":"x","type":"quantitative","scale":{"domain":[0,5.3],"nice":false,"zero":false},"axis":{"orient":"top","values":[0,0.5,1,1.5,2,2.5,3,3.5,4,4.5,5],"labels":false,"tickSize":{"condition":{"test":"datum.value % 1 == 0","value":-13},"value":-7},"title":null}},
"y":{"datum":0,"type":"quantitative","scale":{"domain":[0,4.5],"nice":false},"axis":{"orient":"right","values":[0,0.5,1,1.5,2,2.5,3,3.5,4],"labels":false,"tickSize":{"condition":{"test":"datum.value % 1 == 0","value":-14},"value":-7},"title":null}},"y2":{"datum":4.5}}},
{"data":{"values":[{"x":0.13,"y":3.8,"t":"(a)"}]},"mark":{"type":"text","fontSize":28,"align":"left","baseline":"middle"},
"encoding":{"x":{"field":"x","type":"quantitative","scale":{"domain":[0,5.3],"nice":false,"zero":false},"axis":null},"y":{"field":"y","type":"quantitative","scale":{"domain":[0,4.5],"nice":false},"axis":null},"text":{"field":"t"}}},
{"data":{"values":[{"x":2.38,"y":3.86,"t":"experiment"}]},"mark":{"type":"text","fontSize":33,"align":"left","baseline":"middle"},
"encoding":{"x":{"field":"x","type":"quantitative","scale":{"domain":[0,5.3],"nice":false,"zero":false},"axis":null},"y":{"field":"y","type":"quantitative","scale":{"domain":[0,4.5],"nice":false},"axis":null},"text":{"field":"t"}}}
],
"resolve":{"axis":{"x":"independent","y":"independent"}}},
{"width":518,"height":242,"data":{"name":"b"},
"layer":[
{"mark":{"type":"line","strokeWidth":2.5,"clip":true},
"encoding":{
"x":{"field":"x","type":"quantitative","scale":{"domain":[0,5.3],"nice":false,"zero":false},"axis":{"orient":"bottom","values":[0,0.5,1,1.5,2,2.5,3,3.5,4,4.5,5],"labels":false,"tickSize":{"condition":{"test":"datum.value % 1 == 0","value":-13},"value":-7},"title":null}},
"y":{"field":"y","type":"quantitative","scale":{"domain":[0,4.5],"nice":false},"axis":{"orient":"left","values":[0,0.5,1,1.5,2,2.5,3,3.5,4],"labelExpr":"datum.value % 1 == 0 ? format(datum.value,'d') : ''","tickSize":{"condition":{"test":"datum.value % 1 == 0","value":-14},"value":-7},"title":null}},
"color":{"field":"k","type":"nominal","scale":{"domain":[0,1,2,3,4,5],"range":["#000000","#ff0000","#00ff00","#0000ff","#ffff00","#bc8f8f"]},"legend":{"title":null,"legendX":216,"legendY":9,"labelFontSize":16,"rowPadding":4,"labelExpr":"['x = 0.0, μ = 0.0','x = 0.2, μ = 0.0','x = 0.4, μ = 0.0','x = 0.6, μ = 0.0','x = 0.8, μ = 0.0','x = 1.0, μ = 0.0'][datum.value]"}}
}},
{"data":{"values":[{"x":0.54}]},"mark":{"type":"rule","color":"#ff0000","strokeWidth":2.5,"strokeDash":[15,6]},
"encoding":{"x":{"field":"x","type":"quantitative","scale":{"domain":[0,5.3],"nice":false,"zero":false},"axis":{"orient":"top","values":[0,0.5,1,1.5,2,2.5,3,3.5,4,4.5,5],"labels":false,"tickSize":{"condition":{"test":"datum.value % 1 == 0","value":-13},"value":-7},"title":null}},
"y":{"datum":0,"type":"quantitative","scale":{"domain":[0,4.5],"nice":false},"axis":{"orient":"right","values":[0,0.5,1,1.5,2,2.5,3,3.5,4],"labels":false,"tickSize":{"condition":{"test":"datum.value % 1 == 0","value":-14},"value":-7},"title":null}},"y2":{"datum":4.5}}},
{"data":{"values":[{"x":0.12,"y":3.71,"t":"(b)"}]},"mark":{"type":"text","fontSize":28,"align":"left","baseline":"middle"},
"encoding":{"x":{"field":"x","type":"quantitative","scale":{"domain":[0,5.3],"nice":false,"zero":false},"axis":null},"y":{"field":"y","type":"quantitative","scale":{"domain":[0,4.5],"nice":false},"axis":null},"text":{"field":"t"}}},
{"data":{"values":[{"x":0.99,"y":3.43,"t":"AFM"}]},"mark":{"type":"text","fontSize":28,"align":"left","baseline":"middle"},
"encoding":{"x":{"field":"x","type":"quantitative","scale":{"domain":[0,5.3],"nice":false,"zero":false},"axis":null},"y":{"field":"y","type":"quantitative","scale":{"domain":[0,4.5],"nice":false},"axis":null},"text":{"field":"t"}}}
],
"resolve":{"axis":{"x":"independent","y":"independent"}}},
{"width":518,"height":242,"data":{"name":"c"},
"layer":[
{"mark":{"type":"line","strokeWidth":2.5,"clip":true},
"encoding":{
"x":{"field":"x","type":"quantitative","scale":{"domain":[0,5.3],"nice":false,"zero":false},"axis":{"orient":"bottom","values":[0,0.5,1,1.5,2,2.5,3,3.5,4,4.5,5],"labels":false,"tickSize":{"condition":{"test":"datum.value % 1 == 0","value":-13},"value":-7},"title":null}},
"y":{"field":"y","type":"quantitative","scale":{"domain":[0,4.5],"nice":false},"axis":{"orient":"left","values":[0,0.5,1,1.5,2,2.5,3,3.5,4],"labelExpr":"datum.value % 1 == 0 ? format(datum.value,'d') : ''","tickSize":{"condition":{"test":"datum.value % 1 == 0","value":-14},"value":-7},"title":"σ₁(ω) (πe²/2h)","titleFontSize":36,"titleX":-58,"titleBaseline":"middle"}},
"color":{"field":"k","type":"nominal","scale":{"domain":[0,1,2,3,4,5],"range":["#000000","#ff0000","#00ff00","#0000ff","#ffff00","#bc8f8f"]},"legend":{"title":null,"legendX":65,"legendY":14,"labelFontSize":19,"rowPadding":4,"labelExpr":"['x = 0.0, μ = 0.0','x = 0.2, μ = 0.0','x = 0.4, μ = 0.0','x = 0.6, μ = 0.0','x = 0.8, μ = 0.0','x = 1.0, μ = 0.0'][datum.value]"}}
}},
{"data":{"values":[{"x":0.54}]},"mark":{"type":"rule","color":"#ff0000","strokeWidth":2.5,"strokeDash":[15,6]},
"encoding":{"x":{"field":"x","type":"quantitative","scale":{"domain":[0,5.3],"nice":false,"zero":false},"axis":{"orient":"top","values":[0,0.5,1,1.5,2,2.5,3,3.5,4,4.5,5],"labels":false,"tickSize":{"condition":{"test":"datum.value % 1 == 0","value":-13},"value":-7},"title":null}},
"y":{"datum":0,"type":"quantitative","scale":{"domain":[0,4.5],"nice":false},"axis":{"orient":"right","values":[0,0.5,1,1.5,2,2.5,3,3.5,4],"labels":false,"tickSize":{"condition":{"test":"datum.value % 1 == 0","value":-14},"value":-7},"title":null}},"y2":{"datum":4.5}}},
{"data":{"values":[{"x":0.12,"y":3.73,"t":"(c)"}]},"mark":{"type":"text","fontSize":28,"align":"left","baseline":"middle"},
"encoding":{"x":{"field":"x","type":"quantitative","scale":{"domain":[0,5.3],"nice":false,"zero":false},"axis":null},"y":{"field":"y","type":"quantitative","scale":{"domain":[0,4.5],"nice":false},"axis":null},"text":{"field":"t"}}},
{"data":{"values":[{"x":3.21,"y":3.39,"t":"FM"}]},"mark":{"type":"text","fontSize":28,"align":"left","baseline":"middle"},
"encoding":{"x":{"field":"x","type":"quantitative","scale":{"domain":[0,5.3],"nice":false,"zero":false},"axis":null},"y":{"field":"y","type":"quantitative","scale":{"domain":[0,4.5],"nice":false},"axis":null},"text":{"field":"t"}}}
],
"resolve":{"axis":{"x":"independent","y":"independent"}}},
{"width":518,"height":242,"data":{"name":"d"},
"layer":[
{"mark":{"type":"line","strokeWidth":2.5,"clip":true},
"encoding":{
"x":{"field":"x","type":"quantitative","scale":{"domain":[0,5.3],"nice":false,"zero":false},"axis":{"orient":"bottom","values":[0,0.5,1,1.5,2,2.5,3,3.5,4,4.5,5],"labels":false,"tickSize":{"condition":{"test":"datum.value % 1 == 0","value":-13},"value":-7},"title":null}},
"y":{"field":"y","type":"quantitative","scale":{"domain":[0,4.5],"nice":false},"axis":{"orient":"left","values":[0,0.5,1,1.5,2,2.5,3,3.5,4],"labelExpr":"datum.value % 1 == 0 ? format(datum.value,'d') : ''","tickSize":{"condition":{"test":"datum.value % 1 == 0","value":-14},"value":-7},"title":null}},
"color":{"field":"k","type":"nominal","scale":{"domain":[0,1,2,3,4,5],"range":["#000000","#ff0000","#00ff00","#0000ff","#ffff00","#bc8f8f"]},"legend":{"title":null,"legendX":65,"legendY":15,"labelFontSize":19,"rowPadding":4,"labelExpr":"['μ = 0.0','μ = 0.1 eV','μ = 0.2 eV','μ = 0.3 eV','μ = 0.4 eV','μ = 0.5 eV'][datum.value]"}}
}},
{"data":{"values":[{"x":0.54}]},"mark":{"type":"rule","color":"#ff0000","strokeWidth":2.5,"strokeDash":[15,6]},
"encoding":{"x":{"field":"x","type":"quantitative","scale":{"domain":[0,5.3],"nice":false,"zero":false},"axis":{"orient":"top","values":[0,0.5,1,1.5,2,2.5,3,3.5,4,4.5,5],"labels":false,"tickSize":{"condition":{"test":"datum.value % 1 == 0","value":-13},"value":-7},"title":null}},
"y":{"datum":0,"type":"quantitative","scale":{"domain":[0,4.5],"nice":false},"axis":{"orient":"right","values":[0,0.5,1,1.5,2,2.5,3,3.5,4],"labels":false,"tickSize":{"condition":{"test":"datum.value % 1 == 0","value":-14},"value":-7},"title":null}},"y2":{"datum":4.5}}},
{"data":{"values":[{"x":0.13,"y":3.73,"t":"(d)"}]},"mark":{"type":"text","fontSize":28,"align":"left","baseline":"middle"},
"encoding":{"x":{"field":"x","type":"quantitative","scale":{"domain":[0,5.3],"nice":false,"zero":false},"axis":null},"y":{"field":"y","type":"quantitative","scale":{"domain":[0,4.5],"nice":false},"axis":null},"text":{"field":"t"}}},
{"data":{"values":[{"x":2.15,"y":3.6,"t":"non-magnetic"},{"x":2.15,"y":3.04,"t":"with Pauli blocking"}]},"mark":{"type":"text","fontSize":28,"align":"left","baseline":"middle"},
"encoding":{"x":{"field":"x","type":"quantitative","scale":{"domain":[0,5.3],"nice":false,"zero":false},"axis":null},"y":{"field":"y","type":"quantitative","scale":{"domain":[0,4.5],"nice":false},"axis":null},"text":{"field":"t"}}}
],
"resolve":{"axis":{"x":"independent","y":"independent"}}},
{"width":518,"height":242,"data":{"name":"e"},
"layer":[
{"mark":{"type":"line","strokeWidth":2.5,"clip":true},
"encoding":{
"x":{"field":"x","type":"quantitative","scale":{"domain":[0,5.3],"nice":false,"zero":false},"axis":{"orient":"bottom","values":[0,0.5,1,1.5,2,2.5,3,3.5,4,4.5,5],"labelExpr":"datum.value % 1 == 0 ? format(datum.value,'d') : ''","labelPadding":19,"labelFontSize":29,"tickSize":{"condition":{"test":"datum.value % 1 == 0","value":-13},"value":-7},"title":"Photon energy (eV)","titleFontSize":33,"titleY":60,"titleBaseline":"alphabetic"}},
"y":{"field":"y","type":"quantitative","scale":{"domain":[0,4.5],"nice":false},"axis":{"orient":"left","values":[0,0.5,1,1.5,2,2.5,3,3.5,4],"labelExpr":"datum.value % 1 == 0 ? format(datum.value,'d') : ''","tickSize":{"condition":{"test":"datum.value % 1 == 0","value":-14},"value":-7},"title":null}},
"color":{"field":"k","type":"nominal","scale":{"domain":[0,1,2,3,4,5],"range":["#000000","#ff0000","#00ff00","#0000ff","#ffff00","#bc8f8f"]},"legend":{"title":null,"legendX":69,"legendY":16,"labelFontSize":19,"rowPadding":3.5,"labelExpr":"['x = 0.0, μ = 0.0','x = 0.2, μ = 0.12 eV','x = 0.4, μ = 0.24 eV','x = 0.6, μ = 0.36 eV','x = 0.8, μ = 0.48 eV','x = 1.0, μ = 0.60 eV'][datum.value]"}}
}},
{"data":{"values":[{"x":0.54}]},"mark":{"type":"rule","color":"#ff0000","strokeWidth":2.5,"strokeDash":[15,6]},
"encoding":{"x":{"field":"x","type":"quantitative","scale":{"domain":[0,5.3],"nice":false,"zero":false},"axis":{"orient":"top","values":[0,0.5,1,1.5,2,2.5,3,3.5,4,4.5,5],"labels":false,"tickSize":{"condition":{"test":"datum.value % 1 == 0","value":-13},"value":-7},"title":null}},
"y":{"datum":0,"type":"quantitative","scale":{"domain":[0,4.5],"nice":false},"axis":{"orient":"right","values":[0,0.5,1,1.5,2,2.5,3,3.5,4],"labels":false,"tickSize":{"condition":{"test":"datum.value % 1 == 0","value":-14},"value":-7},"title":null}},"y2":{"datum":4.5}}},
{"data":{"values":[{"x":0.16,"y":3.73,"t":"(e)"}]},"mark":{"type":"text","fontSize":28,"align":"left","baseline":"middle"},
"encoding":{"x":{"field":"x","type":"quantitative","scale":{"domain":[0,5.3],"nice":false,"zero":false},"axis":null},"y":{"field":"y","type":"quantitative","scale":{"domain":[0,4.5],"nice":false},"axis":null},"text":{"field":"t"}}},
{"data":{"values":[{"x":2.87,"y":4.01,"t":"PM with"},{"x":2.87,"y":3.48,"t":"Pauli blocking"}]},"mark":{"type":"text","fontSize":28,"align":"left","baseline":"middle"},
"encoding":{"x":{"field":"x","type":"quantitative","scale":{"domain":[0,5.3],"nice":false,"zero":false},"axis":null},"y":{"field":"y","type":"quantitative","scale":{"domain":[0,4.5],"nice":false},"axis":null},"text":{"field":"t"}}}
],
"resolve":{"axis":{"x":"independent","y":"independent"}}}
],
"spacing":0,
"bounds":"flush",
"resolve":{"scale":{"color":"independent"},"legend":{"color":"independent"}}
}
